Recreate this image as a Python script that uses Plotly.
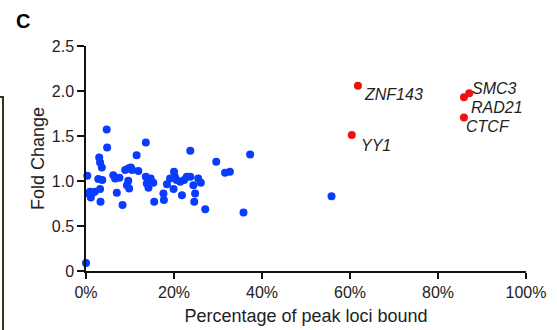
import plotly.graph_objects as go

# ---- data ----
blue_x = [0.0, 0.3, 4.7, 4.8, 3.0, 3.2, 3.6, 2.8, 3.7, 3.2, 0.9, 1.5, 1.1, 2.0, 0.6, 3.3,
          6.2, 6.6, 7.6, 7.0, 8.3, 8.9, 9.6, 10.2, 10.5, 11.9, 9.6, 9.3, 9.8, 11.5,
          13.6, 13.6, 14.2, 14.7, 13.8, 15.3, 14.2, 15.5, 17.6, 17.7, 18.4, 19.1,
          20.0, 20.2, 19.9, 20.6, 21.4, 21.8, 22.3, 22.9, 23.7, 23.7, 24.4, 24.8,
          24.6, 25.5, 26.1, 27.1, 29.6, 31.6, 32.7, 35.8, 37.3, 55.8]
blue_y = [0.09, 1.057, 1.572, 1.372, 1.261, 1.206, 1.151, 1.021, 1.010, 0.910, 0.880, 0.869,
          0.818, 0.880, 0.860, 0.769,
          1.065, 1.028, 1.035, 0.869, 0.732, 1.121, 1.139, 1.151, 1.121, 1.110, 1.002,
          0.954, 0.917, 1.287,
          1.428, 1.046, 1.010, 1.028, 0.973, 0.980, 0.924, 0.769, 0.862, 0.788, 0.965,
          1.028, 1.102, 1.046, 0.910, 1.010, 0.991, 0.843, 1.010, 1.046, 1.046, 1.335,
          0.954, 0.862, 0.769, 1.028, 0.980, 0.685, 1.213, 1.091, 1.102, 0.651, 1.295, 0.83]

red_x = [61.8, 60.4, 87.1, 85.9, 85.9]
red_y = [2.057, 1.51, 1.976, 1.931, 1.706]
red_labels = ["ZNF143", "YY1", "SMC3", "RAD21", "CTCF"]
label_shift = [(4, -9), (7, -10), (1, 5), (5, -10), (0, -9)]

x_ticks = [0, 20, 40, 60, 80, 100]
x_ticktext = ["0%", "20%", "40%", "60%", "80%", "100%"]
y_ticks = [0, 0.5, 1.0, 1.5, 2.0, 2.5]
y_ticktext = ["0", "0.5", "1.0", "1.5", "2.0", "2.5"]

W, H = 557, 330
ML, MR, MT, MB = 86, 31, 46, 59
PW, PH = W - ML - MR, H - MT - MB

FONT = "Liberation Sans, Arial, sans-serif"

fig = go.Figure()
fig.add_trace(go.Scatter(x=blue_x, y=blue_y, mode="markers", cliponaxis=False,
                         marker=dict(size=8, color="#0a3cff", line=dict(width=0)),
                         hoverinfo="skip"))
fig.add_trace(go.Scatter(x=red_x, y=red_y, mode="markers", cliponaxis=False,
                         marker=dict(size=8, color="#ee1111", line=dict(width=0)),
                         hoverinfo="skip"))

for lx, ly, lab, (dx, dy) in zip(red_x, red_y, red_labels, label_shift):
    fig.add_annotation(x=lx, y=ly, xref="x", yref="y", text="<i>" + lab + "</i>",
                       showarrow=False, xanchor="left", yanchor="middle",
                       xshift=dx, yshift=dy,
                       font=dict(family=FONT, size=16, color="#222222"))

def px2x(p):
    return (p - ML) / PW

def py2y(p):
    return (H - MB - p) / PH

# panel letter
fig.add_annotation(x=px2x(23), y=py2y(21), xref="paper", yref="paper",
                   text="<b>C</b>", showarrow=False, xanchor="center", yanchor="middle",
                   font=dict(family=FONT, size=20, color="#000000"))

# left border from adjacent panel
fig.add_shape(type="line", xref="paper", yref="paper",
              x0=px2x(3), x1=px2x(3), y0=py2y(97), y1=py2y(335),
              line=dict(color="#333322", width=2))
fig.add_shape(type="line", xref="paper", yref="paper",
              x0=px2x(-2), x1=px2x(4), y0=py2y(97), y1=py2y(97),
              line=dict(color="#333322", width=2))

fig.update_layout(
    width=W, height=H,
    margin=dict(l=ML, r=MR, t=MT, b=MB, pad=0, autoexpand=False),
    paper_bgcolor="white", plot_bgcolor="white",
    showlegend=False,
    font=dict(family=FONT, color="#222222"),
    xaxis=dict(range=[0, 100], tickvals=x_ticks, ticktext=x_ticktext, automargin=False,
               showgrid=False, zeroline=False, showline=True, linecolor="#111111",
               linewidth=1.5, ticks="outside", ticklen=6, tickwidth=1.5, tickcolor="#111111",
               tickfont=dict(size=16, color="#222222"),
               title=dict(text="Percentage of peak loci bound", standoff=9,
                          font=dict(size=18, color="#222222"))),
    yaxis=dict(range=[0, 2.5], tickvals=y_ticks, ticktext=y_ticktext, automargin=False,
               showgrid=False, zeroline=False, showline=True, linecolor="#111111",
               linewidth=1.5, ticks="outside", ticklen=7, tickwidth=1.5, tickcolor="#111111",
               tickfont=dict(size=16, color="#222222"),
               title=dict(text="Fold Change", standoff=2,
                          font=dict(size=18, color="#222222"))),
)

fig.write_html("out.html")
